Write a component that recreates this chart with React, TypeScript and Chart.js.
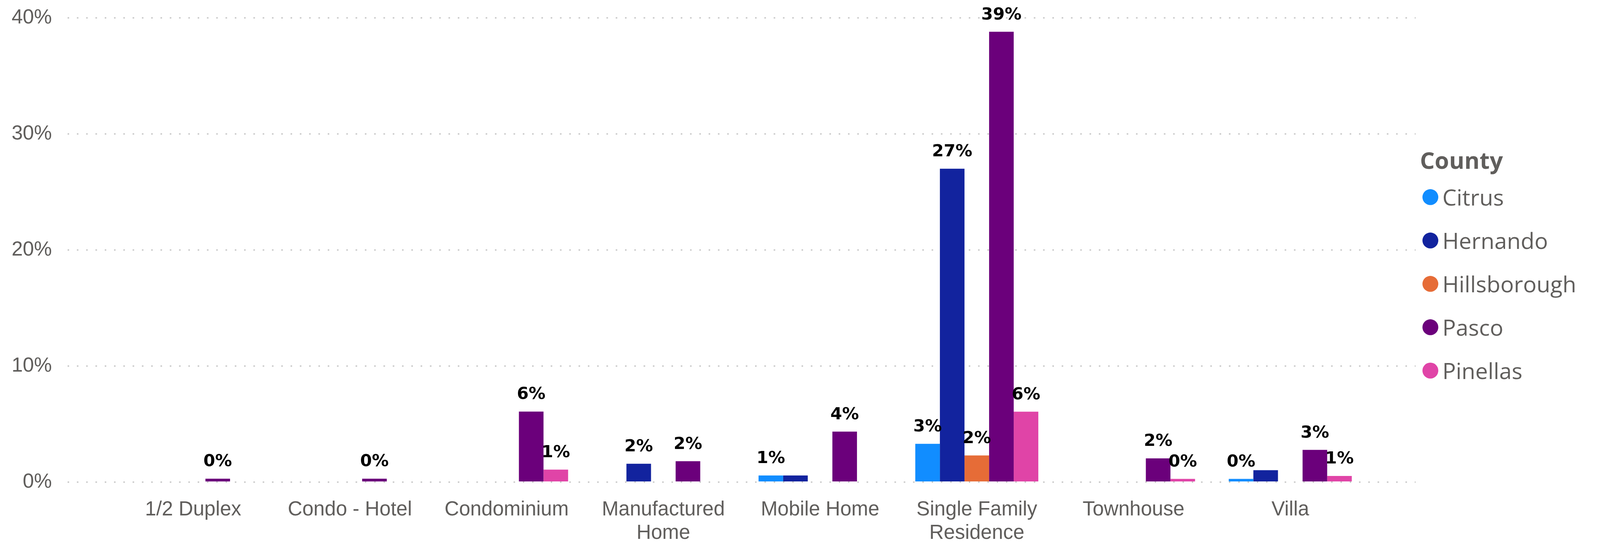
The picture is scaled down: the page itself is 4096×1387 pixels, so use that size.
import React, { useEffect, useRef } from "react";
import { Chart, registerables } from "chart.js";

Chart.register(...registerables);

// ---------- data ----------
const categories = [
  "1/2 Duplex",
  "Condo - Hotel",
  "Condominium",
  "Manufactured Home",
  "Mobile Home",
  "Single Family Residence",
  "Townhouse",
  "Villa",
];
const categoryTickLines = [
  ["1/2 Duplex"],
  ["Condo - Hotel"],
  ["Condominium"],
  ["Manufactured", "Home"],
  ["Mobile Home"],
  ["Single Family", "Residence"],
  ["Townhouse"],
  ["Villa"],
];
const counties = ["Citrus", "Hernando", "Hillsborough", "Pasco", "Pinellas"];
const countyColors = ["#118DFF", "#12239E", "#E66C37", "#6B007B", "#E044A7"];

const citrus = [null, null, null, null, 0.57, 3.3, null, 0.28];
const hernando = [null, null, null, 1.58, 0.57, 27.0, null, 1.03];
const hillsborough = [null, null, null, null, null, 2.3, null, null];
const pasco = [0.3, 0.3, 6.08, 1.8, 4.35, 38.8, 2.05, 2.78];
const pinellas = [null, null, 1.08, null, null, 6.07, 0.28, 0.53];
const seriesValues: (number | null)[][] = [citrus, hernando, hillsborough, pasco, pinellas];

const yTicks = [0, 10, 20, 30, 40];
const legendTitle = "County";

// ---------- layout ----------
const S = 0.991;
const W = 4096;
const H = 1387;
const AREA_LEFT = 175 * S;
const AREA_RIGHT = 3657 * S;
const AREA_TOP = 46 * S;
const AREA_BOTTOM = 1245 * S;
const AXIS_FONT = "'Liberation Sans', Arial, sans-serif";
const AXIS_FS = 52 * S;
const AXIS_COLOR = "#605E5C";
const LABEL_FS = 43.5 * S;
const LABEL_FONT = "'DejaVu Sans', sans-serif";
const LEGEND_FONT = "'Open Sans', sans-serif";

const valueLabelPlugin = {
  id: "valueLabels",
  afterDatasetsDraw(chart: any) {
    const ctx = chart.ctx;
    ctx.save();
    ctx.font = `bold ${LABEL_FS}px ${LABEL_FONT}`;
    ctx.fillStyle = "#000000";
    ctx.textAlign = "center";
    ctx.textBaseline = "alphabetic";
    const placed: { l: number; r: number; t: number; b: number }[] = [];
    const pad = 6 * S;
    chart.data.datasets.forEach((ds: any, di: number) => {
      const meta = chart.getDatasetMeta(di);
      meta.data.forEach((el: any, j: number) => {
        const v = ds.data[j].y;
        if (v == null) return;
        const text = `${Math.round(v)}%`;
        const w = ctx.measureText(text).width;
        const baseline = el.y - 32 * S;
        const rect = {
          l: el.x - w / 2 - pad,
          r: el.x + w / 2 + pad,
          t: baseline - LABEL_FS * 0.73 - pad,
          b: baseline + pad,
        };
        const hit = placed.some(
          (p) => rect.l < p.r && rect.r > p.l && rect.t < p.b && rect.b > p.t
        );
        if (hit) return;
        placed.push(rect);
        ctx.fillText(text, el.x, baseline);
      });
    });
    ctx.restore();
  },
};

const legendPlugin = {
  id: "sideLegend",
  afterDraw(chart: any) {
    const ctx = chart.ctx;
    ctx.save();
    ctx.textAlign = "left";
    ctx.textBaseline = "alphabetic";
    ctx.fillStyle = AXIS_COLOR;
    ctx.font = `bold ${60 * S}px ${LEGEND_FONT}`;
    ctx.fillText(legendTitle, 3668 * S, 436 * S);
    ctx.font = `${58 * S}px ${LEGEND_FONT}`;
    chart.data.datasets.forEach((ds: any, i: number) => {
      const cy = (509 + i * 112) * S;
      ctx.beginPath();
      ctx.fillStyle = ds.backgroundColor;
      ctx.arc(3695 * S, cy, 20.5 * S, 0, Math.PI * 2);
      ctx.fill();
      ctx.fillStyle = AXIS_COLOR;
      ctx.fillText(ds.label, 3726 * S, cy + 22 * S);
    });
    ctx.restore();
  },
};

export default function App() {
  const ref = useRef<HTMLCanvasElement>(null);

  useEffect(() => {
    document.body.style.margin = "0";
    const canvas = ref.current;
    if (!canvas) return;

    const datasets = seriesValues.map((vals, k) => ({
      label: counties[k],
      data: vals
        .map((v, i) => ({ x: i, y: v }))
        .filter((p) => p.y !== null),
      backgroundColor: countyColors[k],
      borderWidth: 0,
      categoryPercentage: 0.785,
      barPercentage: 1,
    }));

    const chart = new Chart(canvas, {
      type: "bar",
      data: { datasets: datasets as any },
      options: {
        animation: false,
        responsive: false,
        maintainAspectRatio: false,
        devicePixelRatio: 1,
        layout: {
          padding: { top: AREA_TOP, right: W - AREA_RIGHT, left: 0, bottom: 0 },
        },
        plugins: {
          legend: { display: false },
          tooltip: { enabled: false },
          title: { display: false },
        },
        scales: {
          x: {
            type: "linear",
            min: -0.8,
            max: 7.8,
            offset: false,
            bounds: "data",
            grid: { display: false, drawTicks: false, offset: false },
            border: { display: false },
            afterBuildTicks: (axis: any) => {
              axis.ticks = categories.map((_, i) => ({ value: i }));
            },
            afterFit: (axis: any) => {
              axis.height = H - AREA_BOTTOM;
              axis.paddingLeft = 0;
              axis.paddingRight = 0;
            },
            ticks: {
              autoSkip: false,
              maxRotation: 0,
              minRotation: 0,
              padding: 41.7 * S,
              color: AXIS_COLOR,
              font: { family: AXIS_FONT, size: AXIS_FS, lineHeight: (60 * S) / AXIS_FS },
              callback: (value: any) => categoryTickLines[Math.round(Number(value))] ?? "",
            },
          },
          y: {
            type: "linear",
            min: 0,
            max: 40,
            grid: {
              display: true,
              drawTicks: false,
              color: "#C8C8C8",
              lineWidth: 3.5 * S,
            },
            border: { display: false, dash: [4 * S, 20 * S] },
            afterBuildTicks: (axis: any) => {
              axis.ticks = yTicks.map((v) => ({ value: v }));
            },
            afterFit: (axis: any) => {
              axis.width = AREA_LEFT;
              axis.paddingTop = 0;
              axis.paddingBottom = 0;
            },
            ticks: {
              padding: 41 * S,
              color: AXIS_COLOR,
              font: { family: AXIS_FONT, size: AXIS_FS },
              callback: (value: any) => `${value}%`,
            },
          },
        },
      } as any,
      plugins: [valueLabelPlugin, legendPlugin],
    });

    return () => chart.destroy();
  }, []);

  return (
    <div style={{ position: "fixed", left: 0, top: 0, width: W, height: H, background: "#ffffff" }}>
      <canvas ref={ref} width={W} height={H} style={{ width: W, height: H, display: "block" }} />
    </div>
  );
}
